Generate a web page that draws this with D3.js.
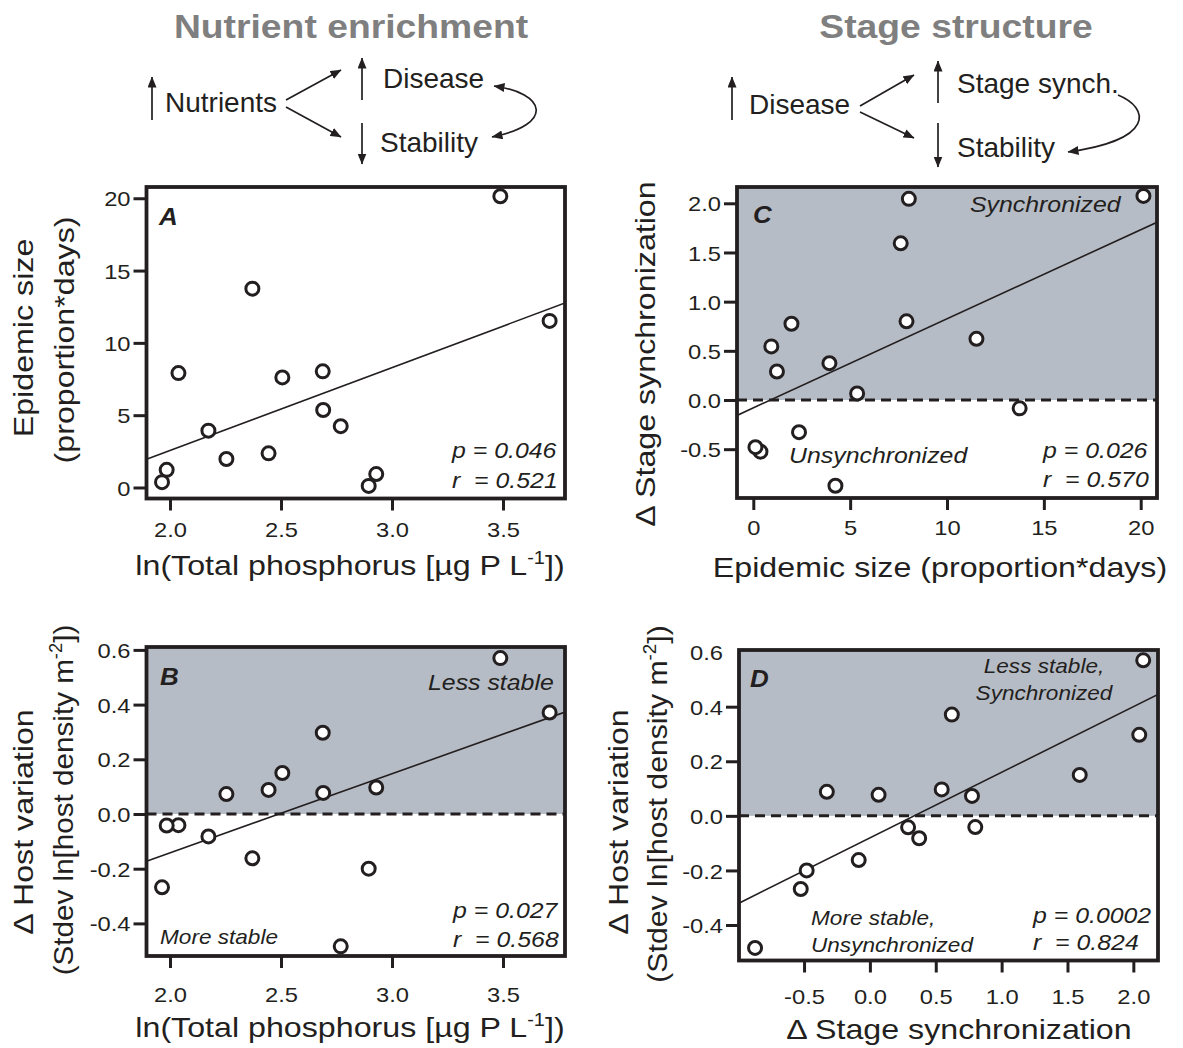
<!DOCTYPE html>
<html><head><meta charset="utf-8">
<script src="https://cdn.jsdelivr.net/npm/d3@7"></script>
<style>
html,body{margin:0;padding:0;background:#fff;}
svg text{font-family:"Liberation Sans",Arial,Helvetica,sans-serif; white-space:pre;}
</style></head><body>
<svg id="chart" width="1183" height="1048"></svg>
<script>
// ---- data: one value per lake (15 lakes) ----
const lnTotalP      = [3.488,3.710,2.371,2.038,2.506,2.688,2.690,2.769,2.173,2.254,2.444,1.985,1.964,2.929,2.895];
const epidemicSize  = [20.14,11.52,13.75,7.91,7.61,8.03,5.36,4.24,3.93,1.97,2.36,1.22,0.37,0.93,0.11];
const stageSynch    = [2.075,0.622,-0.085,0.80,1.593,2.045,0.066,-0.872,0.374,0.775,-0.327,0.29,-0.525,0.545,-0.48];
const hostVariation = [0.570,0.371,-0.162,-0.041,0.150,0.297,0.077,-0.484,-0.082,0.073,0.088,-0.042,-0.268,0.097,-0.200];

// ---- tick values ----
const ticksP     = [2.0,2.5,3.0,3.5];
const ticksEpi   = [0,5,10,15,20];
const ticksSynch = [-0.5,0,0.5,1.0,1.5,2.0];
const ticksHost  = [-0.4,-0.2,0,0.2,0.4,0.6];

// ---- statistics text ----
const statP = ["0.046","0.027","0.026","0.0002"];
const statR = ["0.521","0.568","0.570","0.824"];

const C = "#231f20";
const SX = 1.13;
const loc = d3.formatLocale({decimal:".",thousands:",",grouping:[3],currency:["$",""],minus:"-"});
const fmt1 = loc.format(".1f"), fmt0 = loc.format("d");

const svg = d3.select("#chart");
const defs = svg.append("defs");
defs.append("marker").attr("id","ah").attr("viewBox","0 0 11 9")
  .attr("refX",10.5).attr("refY",4.5).attr("markerWidth",11).attr("markerHeight",9)
  .attr("markerUnits","userSpaceOnUse").attr("orient","auto-start-reverse")
  .append("path").attr("d","M0,0L11,4.5L0,9Z").attr("fill",C);

function stext(g, x, y, str, size, o = {}) {
  const sx = o.sx || SX;
  const t = g.append("text")
    .attr("transform", `translate(${x},${y})${o.rotate ? ` rotate(${o.rotate})` : ""} scale(${sx},1)`)
    .attr("font-size", size).attr("text-anchor", o.anchor || "start")
    .attr("font-style", o.italic ? "italic" : null)
    .attr("font-weight", o.bold ? "bold" : null)
    .attr("fill", o.fill || C);
  if (typeof str === "string") t.text(str); else str(t);
  return t;
}
function supText(main, sup, tail) {
  return t => {
    t.append("tspan").text(main);
    t.append("tspan").attr("font-size","0.62em").attr("dy","-0.62em").text(sup);
    t.append("tspan").attr("dy","0.385em").text(tail);
  };
}
function ols(xs, ys) {
  const mx = d3.mean(xs), my = d3.mean(ys);
  let sxy = 0, sxx = 0;
  xs.forEach((v,i) => { sxy += (v-mx)*(ys[i]-my); sxx += (v-mx)*(v-mx); });
  const b = sxy/sxx; return {a: my - b*mx, b};
}

const panels = [
  {id:"A", xs:lnTotalP, ys:epidemicSize, box:{l:146.5,r:565,t:187,b:498.5},
   xDom:[1.8941,3.7793], yDom:[-0.761,20.778], xTicks:ticksP, yTicks:ticksEpi,
   xFmt:fmt1, yFmt:fmt0, shade:false, xLab:39, letter:[159,225], stat:[452,458,488],
   labels:[]},
  {id:"B", xs:lnTotalP, ys:hostVariation, box:{l:146.5,r:565,t:647,b:956},
   xDom:[1.8941,3.7793], yDom:[-0.5192,0.6106], xTicks:ticksP, yTicks:ticksHost,
   xFmt:fmt1, yFmt:fmt1, shade:true, xLab:46, letter:[160,685], stat:[453,918,947],
   labels:[["Less stable",428,690,22,"start"],["More stable",160,944,20,"start"]]},
  {id:"C", xs:epidemicSize, ys:stageSynch, box:{l:737,r:1157,t:187,b:498},
   xDom:[-0.8415,20.841], yDom:[-0.9964,2.1657], xTicks:ticksEpi, yTicks:ticksSynch,
   xFmt:fmt0, yFmt:fmt1, shade:true, xLab:37, letter:[753,223], stat:[1043,458,487],
   labels:[["Synchronized",970,212,22,"start"],["Unsynchronized",789,463,22,"start"]]},
  {id:"D", xs:stageSynch, ys:hostVariation, box:{l:739,r:1158,t:650,b:960.5},
   xDom:[-0.9938,2.1872], yDom:[-0.5300,0.6077], xTicks:ticksSynch, yTicks:ticksHost,
   xFmt:fmt1, yFmt:fmt1, shade:true, xLab:44, letter:[750,687], stat:[1033,923,950],
   noTick:[0.6],
   labels:[["Less stable,",1044,673,20,"middle"],["Synchronized",1044,700,20,"middle"],
           ["More stable,",811,925,20,"start"],["Unsynchronized",811,952,20,"start"]]}
];

panels.forEach((p, k) => {
  const g = svg.append("g");
  const B = p.box;
  const x = d3.scaleLinear().domain(p.xDom).range([B.l, B.r]);
  const y = d3.scaleLinear().domain(p.yDom).range([B.b, B.t]);
  const cid = "clip" + p.id;
  defs.append("clipPath").attr("id", cid).append("rect")
    .attr("x", B.l).attr("y", B.t).attr("width", B.r - B.l).attr("height", B.b - B.t);
  const inner = g.append("g").attr("clip-path", `url(#${cid})`);
  if (p.shade) {
    inner.append("rect").attr("x", B.l).attr("y", B.t).attr("width", B.r - B.l)
      .attr("height", y(0) - B.t).attr("fill", "#b6bcc5");
    inner.append("line").attr("x1", B.l).attr("x2", B.r).attr("y1", y(0)).attr("y2", y(0))
      .attr("stroke", C).attr("stroke-width", 3).attr("stroke-dasharray", "10,6");
  }
  const fit = ols(p.xs, p.ys);
  inner.append("line")
    .attr("x1", x(p.xDom[0])).attr("y1", y(fit.a + fit.b * p.xDom[0]))
    .attr("x2", x(p.xDom[1])).attr("y2", y(fit.a + fit.b * p.xDom[1]))
    .attr("stroke", C).attr("stroke-width", 1.6);
  g.append("g").selectAll("circle").data(d3.range(p.xs.length)).join("circle")
    .attr("cx", i => x(p.xs[i])).attr("cy", i => y(p.ys[i])).attr("r", 6.5)
    .attr("fill", "#fff").attr("stroke", C).attr("stroke-width", 3);

  // axes
  const gx = g.append("g").attr("transform", `translate(0,${B.b})`)
    .call(d3.axisBottom(x).tickValues(p.xTicks).tickSize(12).tickFormat(p.xFmt));
  gx.select(".domain").remove();
  gx.attr("font-family", null).attr("font-size", 21).attr("color", C);
  gx.selectAll(".tick line").attr("stroke-width", 3);
  gx.selectAll(".tick text").attr("y", p.xLab).attr("dy", null)
    .attr("transform", `scale(${SX},1)`);

  const gy = g.append("g").attr("transform", `translate(${B.l},0)`)
    .call(d3.axisLeft(y).tickValues(p.yTicks).tickSize(13).tickFormat(p.yFmt));
  gy.select(".domain").remove();
  gy.attr("font-family", null).attr("font-size", 21).attr("color", C);
  gy.selectAll(".tick line").attr("stroke-width", 3)
    .attr("display", d => (p.noTick && p.noTick.includes(d)) ? "none" : null);
  gy.selectAll(".tick text").attr("x", -16 / SX).attr("dy", "0.36em")
    .attr("transform", `scale(${SX},1)`);

  // frame
  g.append("rect").attr("x", B.l).attr("y", B.t).attr("width", B.r - B.l).attr("height", B.b - B.t)
    .attr("fill", "none").attr("stroke", C).attr("stroke-width", 3.8);

  // in-panel text
  stext(g, p.letter[0], p.letter[1], p.id, 23, {bold: true, italic: true});
  stext(g, p.stat[0], p.stat[1], "p = " + statP[k], 22, {italic: true});
  stext(g, p.stat[0], p.stat[2], "r  = " + statR[k], 22, {italic: true});
  p.labels.forEach(l => stext(g, l[1], l[2], l[0], l[3], {italic: true, anchor: l[4]}));
});

// axis titles
const T = svg.append("g");
stext(T, 350, 575, supText("ln(Total phosphorus [µg P L", "-1", "])"), 28.5, {anchor: "middle"});
stext(T, 350, 1037, supText("ln(Total phosphorus [µg P L", "-1", "])"), 28.5, {anchor: "middle"});
stext(T, 940, 577, "Epidemic size (proportion*days)", 28.5, {anchor: "middle"});
stext(T, 959, 1039, "Δ Stage synchronization", 28.5, {anchor: "middle"});
stext(T, 33, 338, "Epidemic size", 28.5, {anchor: "middle", rotate: -90});
stext(T, 74, 340, "(proportion*days)", 28.5, {anchor: "middle", rotate: -90});
stext(T, 655, 354, "Δ Stage synchronization", 28.5, {anchor: "middle", rotate: -90});
stext(T, 33, 822, "Δ Host variation", 28.5, {anchor: "middle", rotate: -90});
stext(T, 73, 800, supText("(Stdev ln[host density m", "-2", "])"), 28.5, {anchor: "middle", rotate: -90, sx: 1.04});
stext(T, 628, 822, "Δ Host variation", 28.5, {anchor: "middle", rotate: -90});
stext(T, 667, 804, supText("(Stdev ln[host density m", "-2", "])"), 28.5, {anchor: "middle", rotate: -90, sx: 1.06});

// column headers
stext(T, 351, 38, "Nutrient enrichment", 33, {anchor: "middle", bold: true, fill: "#7f7f7f"});
stext(T, 956, 38, "Stage structure", 33, {anchor: "middle", bold: true, fill: "#7f7f7f"});

// conceptual diagrams
const Dg = svg.append("g").attr("stroke", C).attr("stroke-width", 1.7).attr("fill", "none");
const arrows = [
  [152,120,152,77],[286,100,341,70],[286,107,341,137],[362,100,362,58],[362,123,362,164],
  [732,120,732,77],[860,106,914,75],[860,112,914,138],[938,103,938,61],[938,123,938,167]
];
arrows.forEach(a => Dg.append("line").attr("x1",a[0]).attr("y1",a[1]).attr("x2",a[2]).attr("y2",a[3])
  .attr("marker-end","url(#ah)"));
Dg.append("path").attr("d","M494,86 C545,93 556,124 492,137")
  .attr("marker-start","url(#ah)").attr("marker-end","url(#ah)");
Dg.append("path").attr("d","M1118,95 C1150,108 1155,140 1068,152")
  .attr("marker-end","url(#ah)");
const dt = [["Nutrients",165,111.5],["Disease",383,88],["Stability",380,152],
            ["Disease",749,113.5],["Stage synch.",957,93],["Stability",957,157]];
dt.forEach(d => svg.append("text").attr("x",d[1]).attr("y",d[2]).attr("font-size",28)
  .attr("fill",C).text(d[0]));
</script>
</body></html>
